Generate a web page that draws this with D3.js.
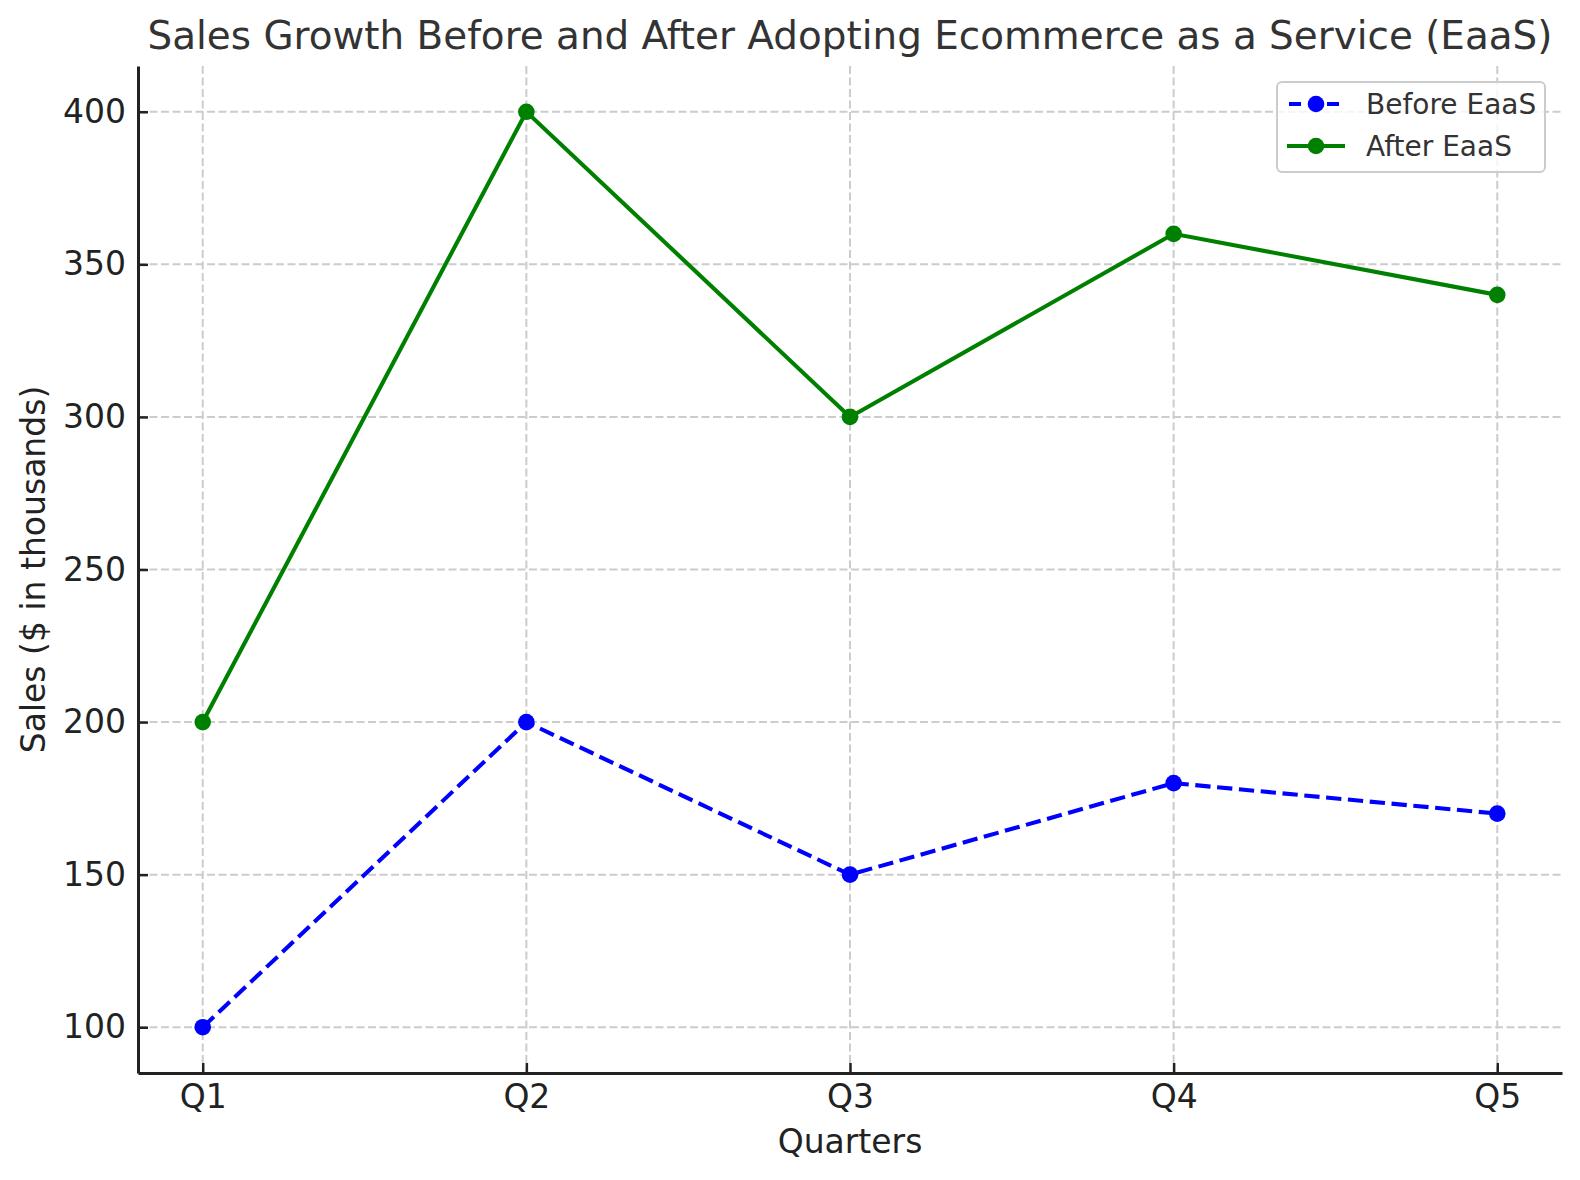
<!DOCTYPE html>
<html>
<head>
<meta charset="utf-8">
<script src="https://cdn.jsdelivr.net/npm/d3@7"></script>
<style>
body{margin:0;background:#fff}
text{font-family:"DejaVu Sans",sans-serif}
</style>
</head>
<body>
<div id="chartDiv"></div>
<script>
//---chart data---
var Quarters=["Q1","Q2","Q3","Q4","Q5"]
var BeforeSales=[100,200,150,180,170]
var AfterSales=[200,400,300,360,340]
var YTicks=[100,150,200,250,300,350,400]
var SeriesNames=["Before EaaS","After EaaS"]

var Width=1580
var Height=1180
var Left=138, Right=1562, Top=66, Bottom=1073

var ChartSVG=d3.select("#chartDiv").append("svg")
  .attr("width",Width).attr("height",Height)

var xScale=d3.scaleLinear().domain([-0.2,4.2]).range([Left,Right])
var yScale=d3.scaleLinear().domain([85,415]).range([Bottom,Top])

//---grid---
var GridG=ChartSVG.append("g")
GridG.selectAll("line.vg").data(Quarters).enter().append("line")
  .attr("x1",function(d,i){return xScale(i)}).attr("x2",function(d,i){return xScale(i)})
  .attr("y1",Top).attr("y2",Bottom)
  .attr("stroke","#cccccc").attr("stroke-width",2).attr("stroke-dasharray","8 3.5")
GridG.selectAll("line.hg").data(YTicks).enter().append("line")
  .attr("x1",Left).attr("x2",Right)
  .attr("y1",function(d){return yScale(d)}).attr("y2",function(d){return yScale(d)})
  .attr("stroke","#cccccc").attr("stroke-width",2).attr("stroke-dasharray","8 3.5")

//---axes---
var xAxis=d3.axisBottom(xScale).tickValues(d3.range(Quarters.length))
  .tickFormat(function(i){return Quarters[i]}).tickSizeInner(-10).tickSizeOuter(0).tickPadding(20)
var yAxis=d3.axisLeft(yScale).tickValues(YTicks).tickSizeInner(-10).tickSizeOuter(0).tickPadding(20)

var xG=ChartSVG.append("g").attr("transform","translate(0,"+Bottom+")").call(xAxis)
var yG=ChartSVG.append("g").attr("transform","translate("+Left+",0)").call(yAxis)
ChartSVG.selectAll(".domain").attr("stroke","#222").attr("stroke-width",3)
ChartSVG.selectAll(".tick line").attr("stroke","#222").attr("stroke-width",2.5)
ChartSVG.selectAll(".tick text").attr("font-size",33).attr("fill","#222")
  .attr("font-family","DejaVu Sans")
xG.selectAll(".tick text").attr("dy","0.75em").attr("y",10)
yG.selectAll(".tick text").attr("x",-12)

//---lines---
var lineGen=d3.line().x(function(d,i){return xScale(i)}).y(function(d){return yScale(d)})
var Series=[
  {name:SeriesNames[0],values:BeforeSales,color:"#0000ff",dash:"15.3 6.6"},
  {name:SeriesNames[1],values:AfterSales,color:"#008000",dash:null}
]
Series.forEach(function(s){
  ChartSVG.append("path").datum(s.values)
    .attr("d",lineGen).attr("fill","none")
    .attr("stroke",s.color).attr("stroke-width",4.1)
    .attr("stroke-dasharray",s.dash)
  ChartSVG.append("g").selectAll("circle").data(s.values).enter().append("circle")
    .attr("cx",function(d,i){return xScale(i)}).attr("cy",function(d){return yScale(d)})
    .attr("r",8.3).attr("fill",s.color)
})

//---title + labels---
ChartSVG.append("text").attr("x",(Left+Right)/2).attr("y",49)
  .attr("text-anchor","middle").attr("font-size",38.9).attr("fill","#333")
  .text("Sales Growth Before and After Adopting Ecommerce as a Service (EaaS)")
ChartSVG.append("text").attr("x",(Left+Right)/2).attr("y",1153)
  .attr("text-anchor","middle").attr("font-size",33).attr("fill","#222")
  .text("Quarters")
ChartSVG.append("text").attr("transform","translate(45,"+((Top+Bottom)/2)+") rotate(-90)")
  .attr("text-anchor","middle").attr("font-size",33).attr("fill","#222")
  .text("Sales ($ in thousands)")

//---legend---
var LegendG=ChartSVG.append("g")
LegendG.append("rect").attr("x",1277).attr("y",82).attr("width",268).attr("height",90)
  .attr("rx",5).attr("fill","#fff").attr("fill-opacity",0.8)
  .attr("stroke","#cccccc").attr("stroke-width",2)
Series.forEach(function(s,i){
  var ly=104+i*42
  LegendG.append("line").attr("x1",1287).attr("x2",1345).attr("y1",ly).attr("y2",ly)
    .attr("stroke",s.color).attr("stroke-width",4.1).attr("stroke-dasharray",s.dash ? "12 7" : null)
    .attr("stroke-dashoffset",s.dash ? -2 : null)
  LegendG.append("circle").attr("cx",1316).attr("cy",ly).attr("r",8.3).attr("fill",s.color)
  LegendG.append("text").attr("x",1366).attr("y",ly).attr("dy","0.36em")
    .attr("font-size",28).attr("fill","#333").text(s.name)
})
</script>
</body>
</html>
